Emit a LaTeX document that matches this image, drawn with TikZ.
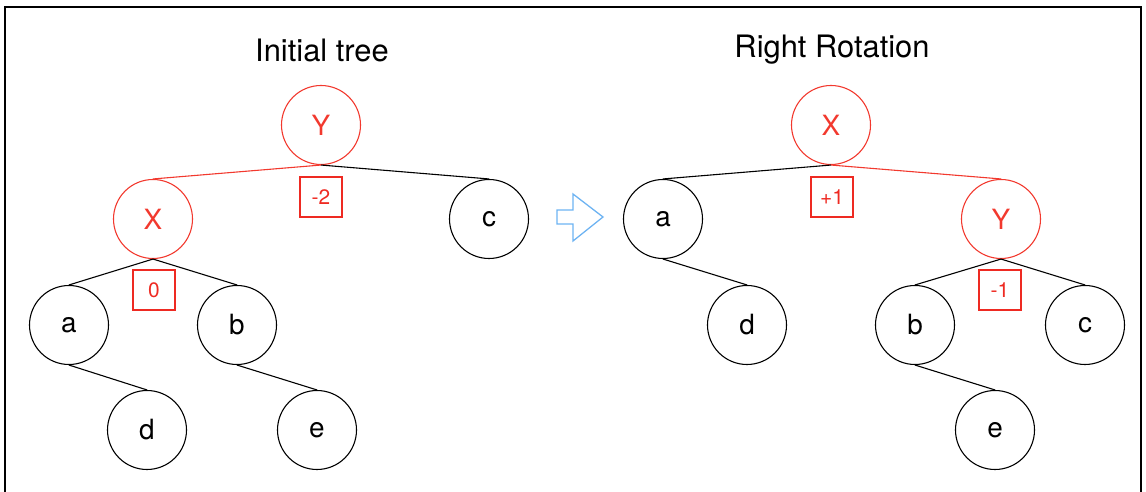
\documentclass[tikz,border=0pt]{standalone}
\usepackage{fontspec}
\setmainfont{TeX Gyre Heros}
\usepackage{tikz}
\usetikzlibrary{arrows.meta,positioning}
\definecolor{rotred}{HTML}{F2392E}
\definecolor{boxred}{HTML}{EE2A22}
\definecolor{arrowblue}{HTML}{6DB3F2}
\tikzset{
  treenode/.style={
    circle,draw=black,line width=1.1pt,minimum size=79bp,inner sep=0pt,
    font=\fontsize{28}{31}\selectfont
  },
  rednode/.style={treenode,draw=rotred,text=rotred},
  balbox/.style={
    draw=boxred,line width=2.7pt,minimum width=42bp,minimum height=40bp,
    inner sep=0pt,text=boxred,font=\fontsize{21}{24}\selectfont
  },
  title/.style={font=\fontsize{31}{34}\selectfont},
  edge/.style={draw=black,line width=1.1pt},
  rededge/.style={draw=rotred,line width=1.1pt}
}

\begin{document}
\begin{tikzpicture}[x=1bp,y=-1bp]
\useasboundingbox (0,0) rectangle (1146,492);
\draw[line width=2.5pt] (5,492)--(5,7)--(1141,7)--(1141,492);

% initial tree
\node[title] (t1) at (322,50) {Initial tree};
\node[rednode] (Y1) at (321,125) {Y};
\node[rednode] (X1) at (153,219) {X};
\node[treenode] (c1) at (489,219) {c};
\node[treenode] (a1) at (69,325) {a};
\node[treenode] (b1) at (237,325) {b};
\node[treenode] (d1) at (147,430) {d};
\node[treenode] (e1) at (317,430) {e};
\node[balbox] (bal1) at (321,197) {-2};
\node[balbox] (bal2) at (154,290) {0};

\draw[rededge] (Y1.south)--(X1.north);
\draw[edge] (Y1.south)--(c1.north);
\draw[edge] (X1.south)--(a1.north);
\draw[edge] (X1.south)--(b1.north);
\draw[edge] (a1.south)--(d1.north);
\draw[edge] (b1.south)--(e1.north);

% rotation arrow
\draw[arrowblue,line width=1.3pt,line join=miter]
  (557,210)--(573,210)--(573,194)--(603,217)--(573,241)--(573,224)--(557,224)--cycle;

% right rotation
\node[title] (t2) at (832,50) {Right Rotation};
\node[rednode] (X2) at (831,125) {X};
\node[treenode] (a2) at (663,219) {a};
\node[rednode] (Y2) at (1001,219) {Y};
\node[treenode] (d2) at (747,325) {d};
\node[treenode] (b2) at (915,325) {b};
\node[treenode] (c2) at (1085,325) {c};
\node[treenode] (e2) at (995,430) {e};
\node[balbox] (bal3) at (832,197) {+1};
\node[balbox] (bal4) at (1000,290) {-1};

\draw[edge] (X2.south)--(a2.north);
\draw[rededge] (X2.south)--(Y2.north);
\draw[edge] (a2.south)--(d2.north);
\draw[edge] (Y2.south)--(b2.north);
\draw[edge] (Y2.south)--(c2.north);
\draw[edge] (b2.south)--(e2.north);
\end{tikzpicture}
\end{document}
